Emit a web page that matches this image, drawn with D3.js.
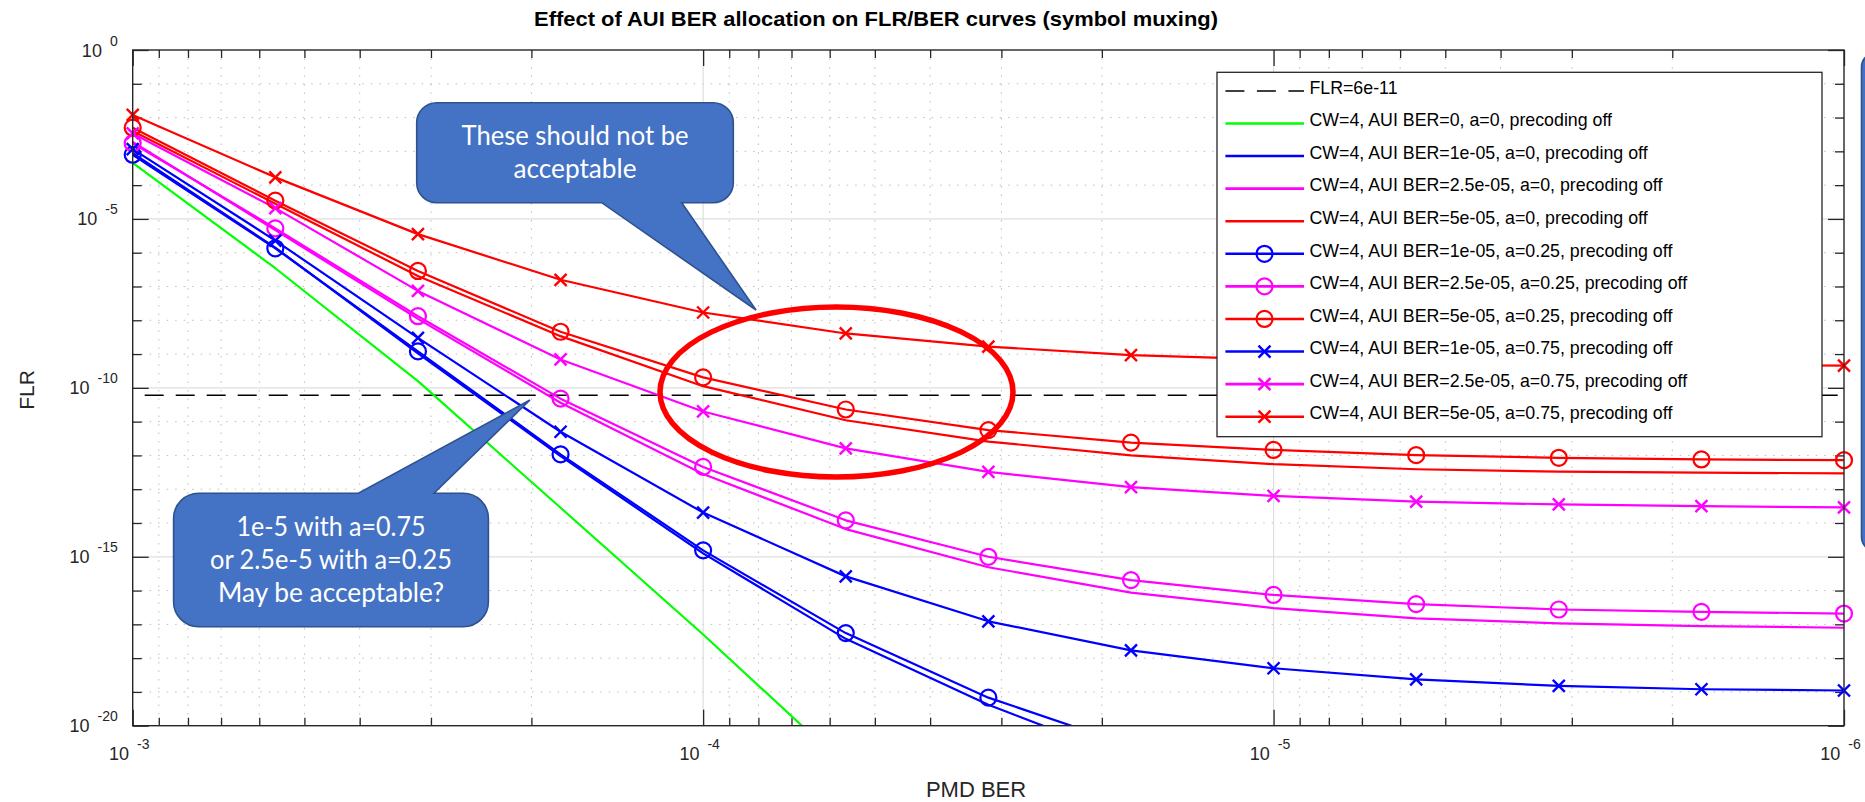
<!DOCTYPE html>
<html>
<head>
<meta charset="utf-8">
<script src="https://cdn.jsdelivr.net/npm/d3@7"></script>
<style>
  html, body { margin: 0; padding: 0; background: #ffffff; }
  svg { display: block; }
</style>
</head>
<body>
<svg id="chart" width="1865" height="802"></svg>
<script>
// ---------------- DATA ----------------
const pmdBer = [1e-3, 5.623e-4, 3.162e-4, 1.778e-4, 1e-4, 5.623e-5, 3.162e-5, 1.778e-5,
                1e-5, 5.623e-6, 3.162e-6, 1.778e-6, 1e-6];

const flrThreshold = 6e-11;

const flrAui0_a0       = [4.57e-4, 3.47e-7, 1.58e-10, 2.82e-14, 5.01e-18, 6.31e-22];
const flrAui1e5_a0     = [8.91e-4, 1.41e-6, 1.05e-9, 9.55e-13, 1.26e-15, 3.72e-18, 4.17e-20, 1.00e-21];
const flrAui25e5_a0    = [1.91e-3, 4.68e-6, 1.10e-8, 3.63e-11, 2.82e-13, 6.61e-15, 4.90e-16, 8.71e-17,
                          3.02e-17, 1.51e-17, 1.07e-17, 8.91e-18, 7.94e-18];
const flrAui5e5_a0     = [3.98e-3, 2.82e-5, 2.04e-7, 3.39e-9, 1.12e-10, 1.10e-11, 2.57e-12, 1.00e-12,
                          5.50e-13, 3.89e-13, 3.31e-13, 3.09e-13, 2.95e-13];
const flrAui1e5_a025   = [7.94e-4, 1.35e-6, 1.20e-9, 1.07e-12, 1.55e-15, 5.50e-18, 6.76e-20, 2.51e-21];
const flrAui25e5_a025  = [1.74e-3, 5.25e-6, 1.32e-8, 4.79e-11, 4.57e-13, 1.20e-14, 1.00e-15, 2.04e-16,
                          7.41e-17, 3.98e-17, 2.75e-17, 2.34e-17, 2.09e-17];
const flrAui5e5_a025   = [5.01e-3, 3.47e-5, 2.88e-7, 4.57e-9, 2.04e-10, 2.29e-11, 5.62e-12, 2.40e-12,
                          1.45e-12, 1.02e-12, 8.51e-13, 7.59e-13, 7.24e-13];
const flrAui1e5_a075   = [1.17e-3, 2.29e-6, 3.02e-9, 5.01e-12, 2.04e-14, 2.63e-16, 1.23e-17, 1.70e-18,
                          5.01e-19, 2.34e-19, 1.51e-19, 1.20e-19, 1.10e-19];
const flrAui25e5_a075  = [3.39e-3, 2.09e-5, 7.41e-8, 6.92e-10, 2.00e-11, 1.62e-12, 3.24e-13, 1.15e-13,
                          6.31e-14, 4.27e-14, 3.55e-14, 3.16e-14, 2.88e-14];
const flrAui5e5_a075   = [1.20e-2, 1.70e-4, 3.55e-6, 1.58e-7, 1.70e-8, 4.07e-9, 1.66e-9, 9.33e-10,
                          6.92e-10, 5.75e-10, 5.13e-10, 4.79e-10, 4.57e-10];

const seriesLabels = [
  "CW=4, AUI BER=0, a=0, precoding off",
  "CW=4, AUI BER=1e-05, a=0, precoding off",
  "CW=4, AUI BER=2.5e-05, a=0, precoding off",
  "CW=4, AUI BER=5e-05, a=0, precoding off",
  "CW=4, AUI BER=1e-05, a=0.25, precoding off",
  "CW=4, AUI BER=2.5e-05, a=0.25, precoding off",
  "CW=4, AUI BER=5e-05, a=0.25, precoding off",
  "CW=4, AUI BER=1e-05, a=0.75, precoding off",
  "CW=4, AUI BER=2.5e-05, a=0.75, precoding off",
  "CW=4, AUI BER=5e-05, a=0.75, precoding off"
];
const thresholdLabel = "FLR=6e-11";
const seriesValues = [flrAui0_a0, flrAui1e5_a0, flrAui25e5_a0, flrAui5e5_a0,
                      flrAui1e5_a025, flrAui25e5_a025, flrAui5e5_a025,
                      flrAui1e5_a075, flrAui25e5_a075, flrAui5e5_a075];
const seriesColors = ["#00ff00", "#0000ff", "#ff00ff", "#ff0000",
                      "#0000ff", "#ff00ff", "#ff0000",
                      "#0000ff", "#ff00ff", "#ff0000"];
const seriesMarkers = ["none", "none", "none", "none", "o", "o", "o", "x", "x", "x"];

const xMajorTicks = [1e-3, 1e-4, 1e-5, 1e-6];
const xTickExponents = ["-3", "-4", "-5", "-6"];
const yMajorTicks = [1, 1e-5, 1e-10, 1e-15, 1e-20];
const yTickExponents = ["0", "-5", "-10", "-15", "-20"];
const xMinorMantissas = [2, 3, 4, 5, 6, 7, 8, 9];
const yMinorTicks = [1e-1, 1e-2, 1e-3, 1e-4, 1e-6, 1e-7, 1e-8, 1e-9, 1e-11, 1e-12, 1e-13, 1e-14,
                     1e-16, 1e-17, 1e-18, 1e-19];

const titleText = "Effect of AUI BER allocation on FLR/BER curves (symbol muxing)";
const xLabelText = "PMD BER";
const yLabelText = "FLR";
const callout1Lines = ["These should not be", "acceptable"];
const callout2Lines = ["1e-5 with a=0.75", "or 2.5e-5 with a=0.25", "May be acceptable?"];

// ---------------- LAYOUT ----------------
const L = 132.7, R = 1844, T = 50, B = 725.7;
const axisColor = "#262626";
const fontM = "'Liberation Sans', Arial, Helvetica, sans-serif";
const fontC = "Lato, 'Open Sans', sans-serif";

const svg = d3.select("#chart");
const x = d3.scaleLog().domain([1e-3, 1e-6]).range([L, R]);
const y = d3.scaleLog().domain([1, 1e-20]).range([T, B]);

const xMinorTicks = [];
[1e-4, 1e-5, 1e-6].forEach(d => xMinorMantissas.forEach(m => xMinorTicks.push(m * d)));

svg.append("rect").attr("x", 0).attr("y", 0).attr("width", 1865).attr("height", 802).attr("fill", "#fff");

// ---------- grid ----------
const grid = svg.append("g");
grid.selectAll("line.xmin").data(xMinorTicks).join("line")
  .attr("x1", d => x(d)).attr("x2", d => x(d)).attr("y1", T).attr("y2", B)
  .attr("stroke", "#bdbdbd").attr("stroke-width", 1).attr("stroke-dasharray", "1.5,7");
grid.selectAll("line.ymin").data(yMinorTicks).join("line")
  .attr("x1", L).attr("x2", R).attr("y1", d => y(d)).attr("y2", d => y(d))
  .attr("stroke", "#bdbdbd").attr("stroke-width", 1).attr("stroke-dasharray", "1.5,7");
grid.selectAll("line.xmaj").data(xMajorTicks.slice(1, 3)).join("line")
  .attr("x1", d => x(d)).attr("x2", d => x(d)).attr("y1", T).attr("y2", B)
  .attr("stroke", "#dedede").attr("stroke-width", 1.2);
grid.selectAll("line.ymaj").data(yMajorTicks.slice(1, 4)).join("line")
  .attr("x1", L).attr("x2", R).attr("y1", d => y(d)).attr("y2", d => y(d))
  .attr("stroke", "#dedede").attr("stroke-width", 1.2);

// ---------- axes (ticks) ----------
function styleAxis(g) {
  g.select(".domain").remove();
  g.selectAll(".tick line").attr("stroke", axisColor).attr("stroke-width", 1.3);
}
svg.append("g").attr("transform", `translate(0,${B})`)
  .call(d3.axisBottom(x).tickValues(xMinorTicks).tickSizeInner(-8).tickSizeOuter(0).tickFormat(() => ""))
  .call(styleAxis);
svg.append("g").attr("transform", `translate(0,${T})`)
  .call(d3.axisTop(x).tickValues(xMinorTicks).tickSizeInner(-8).tickSizeOuter(0).tickFormat(() => ""))
  .call(styleAxis);
svg.append("g").attr("transform", `translate(0,${T})`)
  .call(d3.axisTop(x).tickValues(xMajorTicks).tickSizeInner(-16).tickSizeOuter(0).tickFormat(() => ""))
  .call(styleAxis);
svg.append("g").attr("transform", `translate(${L},0)`)
  .call(d3.axisLeft(y).tickValues(yMinorTicks).tickSizeInner(-9).tickSizeOuter(0).tickFormat(() => ""))
  .call(styleAxis);
svg.append("g").attr("transform", `translate(${R},0)`)
  .call(d3.axisRight(y).tickValues(yMinorTicks).tickSizeInner(-9).tickSizeOuter(0).tickFormat(() => ""))
  .call(styleAxis);
svg.append("g").attr("transform", `translate(${R},0)`)
  .call(d3.axisRight(y).tickValues(yMajorTicks).tickSizeInner(-16).tickSizeOuter(0).tickFormat(() => ""))
  .call(styleAxis);

// bottom major with labels
const gxb = svg.append("g").attr("transform", `translate(0,${B})`)
  .call(d3.axisBottom(x).tickValues(xMajorTicks).tickSizeInner(-16).tickSizeOuter(0).tickFormat(() => "10"))
  .call(styleAxis);
gxb.attr("font-family", fontM).attr("font-size", 18);
gxb.selectAll(".tick text").each(function (d, i) {
  const t = d3.select(this);
  t.text(null).attr("dy", null).attr("y", 34).attr("x", -4).attr("fill", axisColor)
   .attr("text-anchor", "middle");
  t.append("tspan").text("10");
  t.append("tspan").attr("dx", 8).attr("dy", -11).attr("font-size", 14).text(xTickExponents[i]);
});

// left major with labels
const gyl = svg.append("g").attr("transform", `translate(${L},0)`)
  .call(d3.axisLeft(y).tickValues(yMajorTicks).tickSizeInner(-16).tickSizeOuter(0).tickFormat(() => "10"))
  .call(styleAxis);
gyl.attr("font-family", fontM).attr("font-size", 18);
gyl.selectAll(".tick text").each(function (d, i) {
  const t = d3.select(this);
  t.text(null).attr("dy", null).attr("x", -15).attr("y", 6).attr("fill", axisColor)
   .attr("text-anchor", "end");
  t.append("tspan").text("10");
  t.append("tspan").attr("dx", 8).attr("dy", -11).attr("font-size", 14).text(yTickExponents[i]);
});

// ---------- clip ----------
svg.append("clipPath").attr("id", "plotClip")
  .append("rect").attr("x", L).attr("y", T).attr("width", R - L).attr("height", B - T);

const plot = svg.append("g");
const linesG = plot.append("g").attr("clip-path", "url(#plotClip)");

// threshold line
linesG.append("line")
  .attr("x1", x(1e-3)).attr("x2", x(1e-6))
  .attr("y1", y(flrThreshold)).attr("y2", y(flrThreshold))
  .attr("stroke", "#000").attr("stroke-width", 1.5)
  .attr("stroke-dasharray", "19,12").attr("stroke-dashoffset", -12);

const line = d3.line().x(d => x(d[0])).y(d => y(d[1]));
const seriesData = seriesValues.map((vals, i) => ({
  label: seriesLabels[i], color: seriesColors[i], marker: seriesMarkers[i],
  pts: vals.map((v, k) => [pmdBer[k], v])
}));

function drawMarker(g, type, cx, cy, color, r) {
  if (type === "o") {
    g.append("circle").attr("cx", cx).attr("cy", cy).attr("r", r)
      .attr("fill", "none").attr("stroke", color).attr("stroke-width", 2.2);
  } else if (type === "x") {
    const h = r * 0.75;
    g.append("path").attr("d", `M${cx - h},${cy - h}L${cx + h},${cy + h}M${cx - h},${cy + h}L${cx + h},${cy - h}`)
      .attr("fill", "none").attr("stroke", color).attr("stroke-width", 2.4);
  }
}

const markersG = plot.append("g");
seriesData.forEach(s => {
  linesG.append("path").attr("d", line(s.pts)).attr("fill", "none")
    .attr("stroke", s.color).attr("stroke-width", 2.2).attr("stroke-linejoin", "round");
  if (s.marker !== "none") {
    s.pts.forEach(p => {
      if (p[1] >= 1e-20) drawMarker(markersG, s.marker, x(p[0]), y(p[1]), s.color, 8);
    });
  }
});

// axes box
svg.append("rect").attr("x", L).attr("y", T).attr("width", R - L).attr("height", B - T)
  .attr("fill", "none").attr("stroke", axisColor).attr("stroke-width", 1.4);

// ---------- legend ----------
const lgX = 1217, lgY = 72.3, lgW = 1822 - 1217, lgH = 436.7 - 72.3;
const leg = svg.append("g");
leg.append("rect").attr("x", lgX).attr("y", lgY).attr("width", lgW).attr("height", lgH)
  .attr("fill", "#fff").attr("stroke", axisColor).attr("stroke-width", 1.3);
const rowY = i => 90.9 + 32.58 * i;
const legendRows = [{ label: thresholdLabel, color: "#000", marker: "none", dashed: true }]
  .concat(seriesData.map(s => ({ label: s.label, color: s.color, marker: s.marker, dashed: false })));
legendRows.forEach((r, i) => {
  const yy = rowY(i);
  leg.append("line").attr("x1", 1225.4).attr("x2", 1304).attr("y1", yy).attr("y2", yy)
    .attr("stroke", r.color).attr("stroke-width", r.dashed ? 1.5 : 2.6)
    .attr("stroke-dasharray", r.dashed ? "19,12.5" : null);
  if (r.marker !== "none") drawMarker(leg, r.marker, 1264.5, yy, r.color, 8);
  leg.append("text").attr("x", 1309.4).attr("y", yy + 2.7)
    .attr("font-family", fontM).attr("font-size", 17.8).attr("fill", "#000").text(r.label);
});

// ---------- titles ----------
svg.append("text").attr("x", 534).attr("y", 26)
  .attr("font-family", fontM).attr("font-weight", "bold").attr("font-size", 21)
  .attr("fill", "#000").attr("textLength", 684).attr("lengthAdjust", "spacingAndGlyphs")
  .text(titleText);
svg.append("text").attr("x", 976).attr("y", 797).attr("text-anchor", "middle")
  .attr("font-family", fontM).attr("font-size", 22).attr("fill", axisColor).text(xLabelText);
svg.append("text").attr("transform", "translate(33.5,390) rotate(-90)").attr("text-anchor", "middle")
  .attr("font-family", fontM).attr("font-size", 21).attr("fill", axisColor).text(yLabelText);

// ---------- annotations ----------
svg.append("ellipse").attr("cx", 836.5).attr("cy", 392).attr("rx", 176.5).attr("ry", 85)
  .attr("fill", "none").attr("stroke", "#ff0000").attr("stroke-width", 5.5);

function calloutPath(x0, y0, x1, y1, r, side, b1, b2, tx, ty) {
  let p = `M${x0 + r},${y0}`;
  if (side === "top") p += `H${b1}L${tx},${ty}L${b2},${y0}`;
  p += `H${x1 - r}A${r},${r} 0 0 1 ${x1},${y0 + r}V${y1 - r}A${r},${r} 0 0 1 ${x1 - r},${y1}`;
  if (side === "bottom") p += `H${b2}L${tx},${ty}L${b1},${y1}`;
  p += `H${x0 + r}A${r},${r} 0 0 1 ${x0},${y1 - r}V${y0 + r}A${r},${r} 0 0 1 ${x0 + r},${y0}Z`;
  return p;
}
const calloutFill = "#4472c4", calloutStroke = "#2f528f";
svg.append("path").attr("d", calloutPath(416.7, 102.7, 733.3, 202.7, 20, "bottom", 601.7, 681.7, 756, 310))
  .attr("fill", calloutFill).attr("stroke", calloutStroke).attr("stroke-width", 1.6);
const c1Widths = [227, 123];
callout1Lines.forEach((t, i) => {
  svg.append("text").attr("x", 575).attr("y", 145 + 33.3 * i).attr("text-anchor", "middle")
    .attr("font-family", fontC).attr("font-size", 26).attr("fill", "#fff")
    .attr("textLength", c1Widths[i]).attr("lengthAdjust", "spacingAndGlyphs").text(t);
});

svg.append("path").attr("d", calloutPath(173.6, 493.3, 488.4, 626.7, 25, "top", 358.4, 434, 530, 400))
  .attr("fill", calloutFill).attr("stroke", calloutStroke).attr("stroke-width", 1.6);
const c2Widths = [189, 242, 226];
callout2Lines.forEach((t, i) => {
  svg.append("text").attr("x", 331).attr("y", 536 + 32.9 * i).attr("text-anchor", "middle")
    .attr("font-family", fontC).attr("font-size", 26).attr("fill", "#fff")
    .attr("textLength", c2Widths[i]).attr("lengthAdjust", "spacingAndGlyphs").text(t);
});

// partial callout at right edge
svg.append("rect").attr("x", 1861.5).attr("y", 53).attr("width", 60).attr("height", 498).attr("rx", 14)
  .attr("fill", calloutFill).attr("stroke", calloutStroke).attr("stroke-width", 1.6);
</script>
</body>
</html>
